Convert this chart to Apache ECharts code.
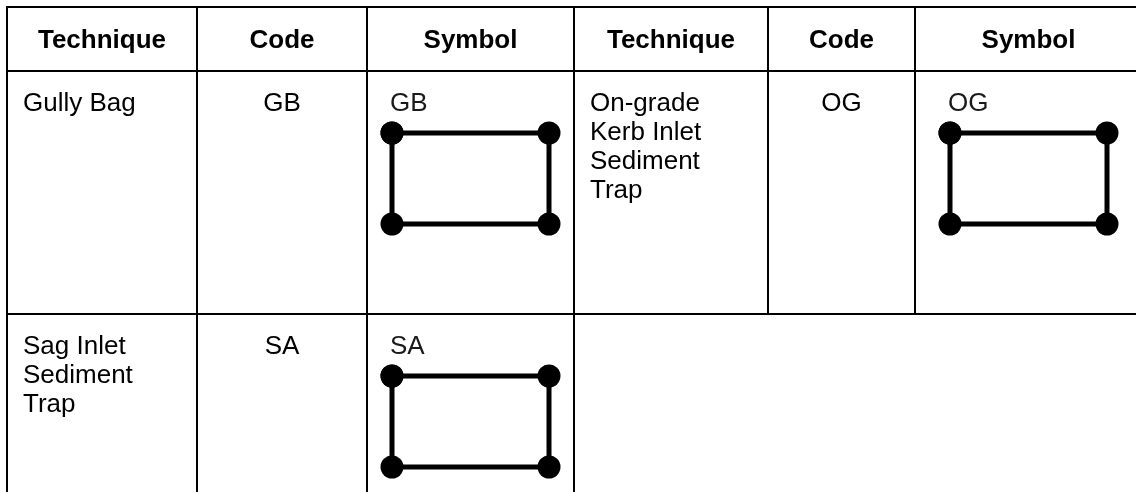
<!DOCTYPE html>
<html>
<head>
<meta charset="utf-8">
<script src="https://cdn.jsdelivr.net/npm/echarts@6/dist/echarts.min.js"></script>
<style>
html,body{margin:0;padding:0;background:#fff;}
#chart{width:1136px;height:492px;}
</style>
</head>
<body>
<div id="chart"></div>
<script>
// ---- table content ----
const headers = ['Technique', 'Code', 'Symbol', 'Technique', 'Code', 'Symbol'];
const techniques = ['Gully Bag', 'On-grade\nKerb Inlet\nSediment\nTrap', 'Sag Inlet\nSediment\nTrap'];
const codes = ['GB', 'OG', 'SA'];
const symbolLabels = ['GB', 'OG', 'SA'];

// ---- layout (pixel units on hidden value axes) ----
const W = 1136, H = 492;
const colEdges = [7, 197, 367, 574, 768, 915, 1142];
const rowEdges = [7, 71, 314];
const entryCells = [[0, 0], [0, 1], [1, 0]]; // [body row, column block]
const FONT = '"Liberation Sans", Arial, sans-serif';

// rules: [x1, y1, x2, y2]
const rules = [];
rowEdges.forEach(y => rules.push([colEdges[0] - 1, y, W + 10, y]));
[0, 1, 2, 3].forEach(i => rules.push([colEdges[i], rowEdges[0] - 1, colEdges[i], H + 10]));
[4, 5].forEach(i => rules.push([colEdges[i], rowEdges[0] - 1, colEdges[i], rowEdges[2]]));

// text items
const texts = [];
headers.forEach((h, i) => {
  texts.push({x: (colEdges[i] + colEdges[i + 1]) / 2, y: 41, text: h, align: 'center', vAlign: 'middle', bold: true});
});
const symbolSeries = [];
entryCells.forEach((cell, k) => {
  const rowTop = rowEdges[1 + cell[0]];
  const c0 = cell[1] * 3;
  texts.push({x: colEdges[c0] + 16, y: rowTop + 18, text: techniques[k], align: 'left', vAlign: 'top'});
  texts.push({x: (colEdges[c0 + 1] + colEdges[c0 + 2]) / 2, y: rowTop + 18, text: codes[k], align: 'center', vAlign: 'top'});
  const cx = (colEdges[c0 + 2] + colEdges[c0 + 3]) / 2;
  const l = cx - 78.5, r = cx + 78.5, t = rowTop + 62, b = rowTop + 153;
  texts.push({x: l - 2, y: rowTop + 18, text: symbolLabels[k], align: 'left', vAlign: 'top', color: '#1a1a1a'});
  symbolSeries.push({
    type: 'line',
    data: [[l, t], [r, t], [r, b], [l, b], [l, t]],
    symbol: 'circle',
    symbolSize: 23,
    showSymbol: true,
    itemStyle: {color: '#000'},
    lineStyle: {color: '#000', width: 5},
    clip: false,
    animation: false,
    z: 3
  });
});

const chart = echarts.init(document.getElementById('chart'), null, {renderer: 'canvas'});
chart.setOption({
  backgroundColor: '#fff',
  animation: false,
  grid: {left: 0, right: 0, top: 0, bottom: 0},
  xAxis: {type: 'value', min: 0, max: W, show: false},
  yAxis: {type: 'value', min: 0, max: H, inverse: true, show: false},
  series: [
    {
      type: 'custom',
      clip: false,
      encode: {x: [0, 2], y: [1, 3]},
      data: rules,
      renderItem: function (params, api) {
        const p1 = api.coord([api.value(0), api.value(1)]);
        const p2 = api.coord([api.value(2), api.value(3)]);
        return {type: 'line', shape: {x1: p1[0], y1: p1[1], x2: p2[0], y2: p2[1]},
          style: {stroke: '#000', lineWidth: 2}};
      },
      z: 2
    },
    {
      type: 'custom',
      clip: false,
      encode: {x: 0, y: 1},
      data: texts.map(t => [t.x, t.y]),
      renderItem: function (params, api) {
        const it = texts[params.dataIndex];
        const p = api.coord([api.value(0), api.value(1)]);
        return {type: 'text', x: p[0], y: p[1],
          style: {text: it.text, fontSize: 26, fontWeight: it.bold ? 'bold' : 'normal', fontFamily: FONT,
            lineHeight: 29, align: it.align, verticalAlign: it.vAlign, fill: it.color || '#000'}};
      },
      z: 4
    }
  ].concat(symbolSeries)
});
</script>
</body>
</html>
